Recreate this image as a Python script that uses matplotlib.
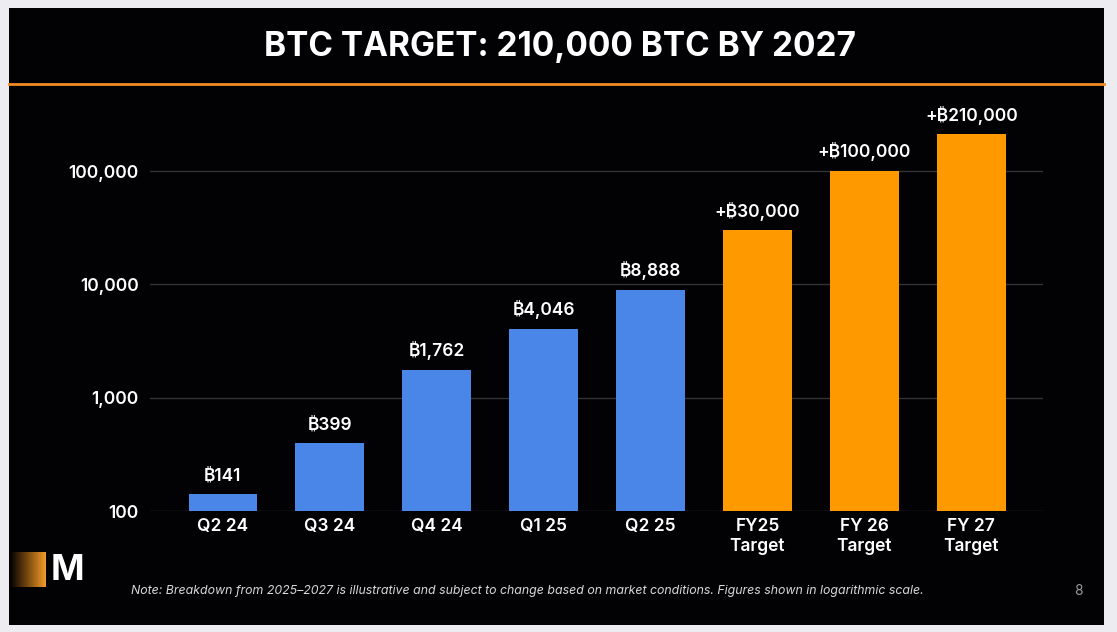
import numpy as np
import matplotlib
matplotlib.use('Agg')
import matplotlib.pyplot as plt
from matplotlib.patches import Rectangle
from matplotlib.colors import LinearSegmentedColormap

plt.rcParams['font.family'] = ['Inter', 'DejaVu Sans']

# data
periods = ['Q2 24', 'Q3 24', 'Q4 24', 'Q1 25', 'Q2 25',
           'FY25\nTarget', 'FY 26\nTarget', 'FY 27\nTarget']
holdings = [141, 399, 1762, 4046, 8888, 30000, 100000, 210000]
bar_labels = ['₿141', '₿399', '₿1,762', '₿4,046', '₿8,888',
              '+₿30,000', '+₿100,000', '+₿210,000']
is_target = [False, False, False, False, False, True, True, True]
yticks = [100, 1000, 10000, 100000]
ytick_labels = ['100', '1,000', '10,000', '100,000']

blue = '#4a86e8'
orange = '#ff9900'

W, H = 1117, 632
fig = plt.figure(figsize=(W / 100, H / 100), dpi=100)
fig.patch.set_facecolor('#ececf1')

# black slide panel
fig.patches.append(Rectangle((9 / W, 1 - 625 / H), (1104 - 9) / W, (625 - 8) / H,
                             transform=fig.transFigure, facecolor='#020103',
                             edgecolor='none', zorder=-10))
# orange rule under title
fig.add_artist(plt.Line2D([9 / W, 1104 / W], [1 - 84 / H, 1 - 84 / H],
                          color='#f08a24', lw=2, transform=fig.transFigure))

fig.text(560 / W, 1 - 47 / H, 'BTC TARGET: 210,000 BTC BY 2027', color='white',
         fontsize=24, fontweight='bold', ha='center', va='center')

ax = fig.add_axes([150 / W, 1 - 511 / H, (1043 - 150) / W, (511 - 86) / H])
ax.set_facecolor('none')

x = np.arange(len(periods))
colors = [orange if t else blue for t in is_target]
ax.bar(x, holdings, width=0.64, color=colors, zorder=3)
ax.set_yscale('log')
ax.set_ylim(100, 10 ** 5.75)
ax.set_xlim(-0.68, 7.67)

for xi, v, lab in zip(x, holdings, bar_labels):
    ax.annotate(lab, (xi, v), xytext=(0, 7), textcoords='offset points',
                ha='center', va='bottom', color='white', fontsize=12.5,
                fontweight='semibold')

ax.set_yticks(yticks)
ax.set_yticklabels(ytick_labels)
ax.yaxis.set_minor_locator(matplotlib.ticker.NullLocator())
ax.set_xticks(x)
ax.set_xticklabels(periods, linespacing=1.25)
ax.tick_params(axis='both', length=0, colors='white', labelsize=12.5)
ax.tick_params(axis='x', pad=5)
ax.tick_params(axis='y', pad=8)
for lab in ax.get_xticklabels() + ax.get_yticklabels():
    lab.set_fontweight('semibold')
for s in ax.spines.values():
    s.set_visible(False)
ax.grid(axis='y', which='major', color='#333333', lw=1, zorder=0)

# logo: gradient block and M
logo = fig.add_axes([10 / W, 1 - 587 / H, 36 / W, 35 / H])
grad = LinearSegmentedColormap.from_list('g', ['#020103', '#7a4a10', '#f39a2a'])
logo.imshow(np.linspace(0, 1, 64).reshape(1, -1), cmap=grad, aspect='auto')
logo.axis('off')
fig.text(51 / W, 1 - 570 / H, 'M', color='white', fontsize=26, fontweight='bold',
         va='center', ha='left')

fig.text(131 / W, 1 - 591 / H,
         'Note: Breakdown from 2025–2027 is illustrative and subject to change based on '
         'market conditions. Figures shown in logarithmic scale.',
         color='#d8d8d8', fontsize=8.9, style='italic', va='center', ha='left')
fig.text(1078 / W, 1 - 591 / H, '8', color='#9a9a9a', fontsize=10,
         va='center', ha='center')

fig.savefig('out.png', dpi=100, facecolor=fig.get_facecolor())
